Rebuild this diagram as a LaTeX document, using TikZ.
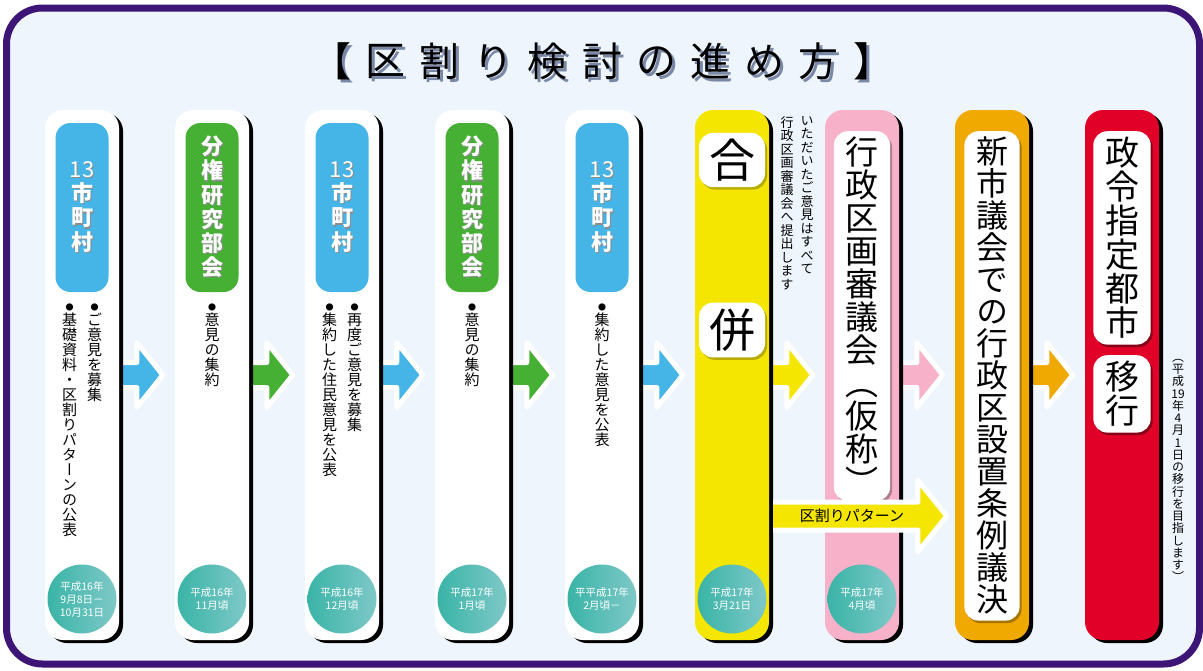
\documentclass[tikz,border=0pt]{standalone}
\usepackage{fontspec}
\setmainfont{Noto Sans CJK JP}
\newfontfamily\vjp{Noto Sans CJK JP}[RawFeature=+vert]
\usetikzlibrary{calc,shadows}

\definecolor{framec}{RGB}{61,21,119}
\definecolor{paper}{RGB}{238,245,252}
\definecolor{jblue}{RGB}{69,181,232}
\definecolor{jgreen}{RGB}{70,176,52}
\definecolor{jyellow}{RGB}{245,230,0}
\definecolor{jpink}{RGB}{247,178,201}
\definecolor{jorange}{RGB}{240,169,0}
\definecolor{jred}{RGB}{224,0,40}
\definecolor{tealA}{RGB}{58,180,166}
\definecolor{tealB}{RGB}{126,200,200}
\definecolor{tshadow}{RGB}{122,136,168}

\pgfdeclarelayer{bg}
\pgfsetlayers{bg,main}

% one character per line, for the upright columns of text
\ExplSyntaxOn
\NewDocumentCommand\vtext{O{1}m}
 {
  \vbox:n
   {
    \skip_set:Nn \baselineskip {#1em}
    \dim_set:Nn \lineskiplimit {-100pt}
    \exp_args:No \tl_map_inline:nn {#2} { \hbox_to_wd:nn {1.1em} { \hss ##1 \hss } }
   }
 }
\ExplSyntaxOff
\newcommand\bul{{\fontsize{8}{8}\selectfont ●}}
% text with a copy of itself shifted down right
\newcommand\shadowed[3][1.2pt]{\makebox[0pt][l]{\hspace{#1}\raisebox{-#1}{\color{#2}#3}}#3}

\begin{document}
\begin{tikzpicture}[x=1pt,y=-1pt,
    titletxt/.style={font=\fontsize{40}{40}\selectfont},
    pill/.style={minimum width=74, minimum height=530, rounded corners=18, inner sep=0,
      drop shadow={shadow xshift=4pt, shadow yshift=-3pt, fill=black, opacity=1}},
    tagbox/.style={minimum width=53, minimum height=169, rounded corners=15},
    tagtxt/.style={text=white, inner sep=0, font=\vjp\bfseries\fontsize{22}{22}\selectfont},
    notetxt/.style={anchor=north, inner sep=0, font=\vjp\fontsize{15}{15}\selectfont},
    datecirc/.style={circle, minimum size=69, inner sep=0, left color=tealA, right color=tealB,
      text=white, align=center, font=\fontsize{10.5}{13}\selectfont},
    halo/.style={fill=white, rounded corners=14, inner xsep=10, inner ysep=6,
      drop shadow={shadow xshift=2pt, shadow yshift=-2.5pt, fill=#1, opacity=1}},
    stepline/.style={draw=white, line width=5, line join=round}]
  \useasboundingbox (0,0) rectangle (1203,670);
  \begin{pgfonlayer}{bg}
    \fill[white] (0,0) rectangle (1203,670);
    \draw[framec, line width=7, fill=paper, rounded corners=36] (6.5,8) rectangle (1199.5,664);
  \end{pgfonlayer}

  % title
  \foreach \ch [count=\k from 0] in {【,区,割,り,検,討,の,進,め,方,】}
    \node[titletxt] (t\k) at (331+54.2*\k,63) {\shadowed[3pt]{tshadow}{\ch}};

  % columns
  \foreach \i/\pc in {1/white,2/white,3/white,4/white,5/white,6/jyellow,7/jpink,8/jorange,9/jred}
    \node[pill, fill=\pc] (c\i) at ({82+130*(\i-1)},375) {};

  % arrows between the columns
  \begin{pgfonlayer}{bg}
    \foreach \i/\j/\pc in {1/2/jblue,2/3/jgreen,3/4/jblue,4/5/jgreen,5/6/jblue,6/7/jyellow,7/8/jpink,8/9/jorange}
      \draw[stepline, fill=\pc] let \p1=(c\i.east), \p2=(c\j.west) in
        (\x1,\y1+12.5) -- (\x2-38,\y1+12.5) -- (\x2-38,\y1+32.5) -- (\x2-12,\y1)
        -- (\x2-38,\y1-32.5) -- (\x2-38,\y1-12.5) -- (\x1,\y1-12.5) -- cycle;
  \end{pgfonlayer}

  % labels
  \foreach \i/\pc/\txt in {1/jblue/{{\mdseries 13}市町村},2/jgreen/分権研究部会,
      3/jblue/{{\mdseries 13}市町村},4/jgreen/分権研究部会,5/jblue/{{\mdseries 13}市町村}}{
    \node[tagbox, fill=\pc] (l\i) at (c\i |- 0,207.5) {};
    \node[tagtxt] (lt\i) at (l\i.center) {\shadowed{black!45}{\vtext[1.1]{\txt}}};
  }

  % notes
  \node[notetxt] (n1a) at (94.5,304) {\vtext{\bul ご意見を募集}};
  \node[notetxt] (n1b) at (69.5,304) {\vtext{\bul 基礎資料・区割りパターンの公表}};
  \node[notetxt] (n2) at (212,304) {\vtext{\bul 意見の集約}};
  \node[notetxt] (n3a) at (354.5,304) {\vtext{\bul 再度ご意見を募集}};
  \node[notetxt] (n3b) at (329.5,304) {\vtext{\bul 集約した住民意見を公表}};
  \node[notetxt] (n4) at (472,304) {\vtext{\bul 意見の集約}};
  \node[notetxt] (n5) at (602,304) {\vtext{\bul 集約した意見を公表}};
  \node[notetxt, font=\vjp\fontsize{13}{13}\selectfont] (a6a) at (807,116) {\vtext[1.04]{いただいたご意見はすべて}};
  \node[notetxt, font=\vjp\fontsize{13}{13}\selectfont] (a6b) at (787,116) {\vtext[1.04]{行政区画審議会へ提出します}};
  \node[notetxt, font=\vjp\fontsize{12}{12}\selectfont] (a9) at (1178,359) {\vtext[1.02]{（平成{19}年4月1日の移行を目指します）}};

  % dates
  \foreach \i/\dt in {1/{平成16年\\9月8日－\\10月31日},2/{平成16年\\11月頃},3/{平成16年\\12月頃},
      4/{平成17年\\1月頃},5/{平平成17年\\2月頃－},6/{平成17年\\3月21日},7/{平成17年\\4月頃}}
    \node[datecirc] (d\i) at (c\i |- 0,599) {\dt};

  % big texts
  \node[halo=jyellow!75!black, font=\fontsize{46}{46}\selectfont] (h6a) at (c6 |- 0,160) {合};
  \node[halo=jyellow!75!black, font=\fontsize{46}{46}\selectfont] (h6b) at (c6 |- 0,330) {併};
  \node[halo=jpink!70!black, anchor=north, font=\vjp\fontsize{33}{33}\selectfont] (h7) at (c7 |- 0,131) {\vtext{行政区画審議会（仮称）}};
  \node[halo=jorange!70!black, anchor=north, font=\vjp\fontsize{32}{32}\selectfont] (h8) at (c8 |- 0,131) {\vtext{新市議会での行政区設置条例議決}};
  \node[halo=jred!60!black, anchor=north, font=\vjp\fontsize{34}{34}\selectfont] (h9a) at (c9 |- 0,131) {\vtext{政令指定都市}};
  \node[halo=jred!60!black, anchor=north, font=\vjp\fontsize{34}{34}\selectfont] (h9b) at (c9 |- 0,355) {\vtext{移行}};

  % pattern arrow
  \coordinate (pat) at (0,516);
  \filldraw[stepline, fill=jyellow] let \p1=(c6.east), \p2=(c8.west), \p3=(pat) in
    (\x1+4,\y3+14) -- (\x2-37,\y3+14) -- (\x2-37,\y3+36) -- (\x2-8,\y3)
    -- (\x2-37,\y3-36) -- (\x2-37,\y3-14) -- (\x1+4,\y3-14);
  \node[font=\fontsize{15}{15}\selectfont] (patlbl) at (852,516) {区割りパターン};
\end{tikzpicture}
\end{document}
